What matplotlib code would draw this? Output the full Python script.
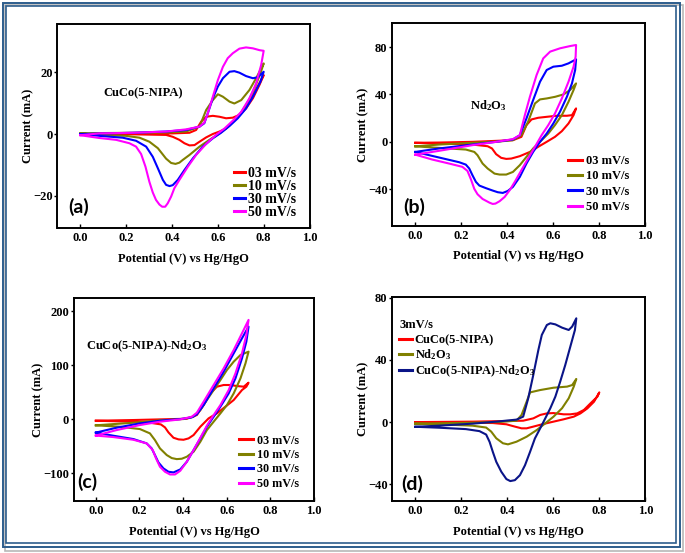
import matplotlib
matplotlib.use('Agg')
import matplotlib.pyplot as plt
from matplotlib.patches import Rectangle

plt.rcParams.update({
    'font.family': ['Liberation Serif', 'DejaVu Serif'],
    'font.weight': 'bold',
    'axes.labelweight': 'bold',
    'mathtext.fontset': 'custom',
    'mathtext.rm': 'Liberation Serif:bold',
    'mathtext.it': 'Liberation Serif:bold:italic',
    'mathtext.bf': 'Liberation Serif:bold',
    'axes.linewidth': 1.4,
    'xtick.direction': 'in',
    'ytick.direction': 'out',
    'xtick.major.size': 3,
    'ytick.major.size': 2,
    'xtick.major.width': 1.0,
    'ytick.major.width': 1.0,
})

# ---------------- data ----------------
x_ticks = [0.0, 0.2, 0.4, 0.6, 0.8, 1.0]
x_ticklabels = ['0.0', '0.2', '0.4', '0.6', '0.8', '1.0']
scan_labels = ['03 mV/s', '10 mV/s', '30 mV/s', '50 mV/s']
d_title = '3mV/s'
d_labels = ['CuCo(5-NIPA)', 'Nd$_2$O$_3$', 'CuCo(5-NIPA)-Nd$_2$O$_3$']
panel_titles = ['CuCo(5-NIPA)', 'Nd$_2$O$_3$', 'CuCo(5-NIPA)-Nd$_2$O$_3$']

# Panel (a) CuCo(5-NIPA)
a03_V = [0, 0.229, 0.403, 0.476, 0.505, 0.527, 0.549, 0.578, 0.607, 0.636, 0.665, 0.694, 0.723, 0.753, 0.782, 0.8,
         0.753, 0.709, 0.665, 0.636, 0.607, 0.578, 0.549, 0.520, 0.498, 0.476, 0.454, 0.432, 0.403, 0.374, 0.229, 0]
a03_I = [0, 0.1, 0.2, 0.4, 1.3, 4.0, 5.6, 5.9, 5.6, 5.1, 5.3, 6.2, 8.3, 11.6, 16.0, 19.1,
         12.6, 7.4, 4.0, 1.8, 0.8, 0, -1.1, -2.5, -3.6, -3.7, -3.0, -1.9, -0.9, -0.3, -0.1, 0]
a10_V = [0, 0.083, 0.229, 0.374, 0.461, 0.520, 0.549, 0.578, 0.600, 0.622, 0.651, 0.672, 0.702, 0.738, 0.767, 0.8,
         0.786, 0.757, 0.728, 0.699, 0.665, 0.636, 0.607, 0.563, 0.520, 0.476, 0.447, 0.432, 0.415, 0.396, 0.374,
         0.338, 0.301, 0.258, 0.199, 0.083, 0]
a10_I = [0.2, 0.3, 0.4, 0.5, 0.8, 2.4, 7.8, 11.0, 12.9, 12.1, 10.5, 9.9, 11.0, 14.3, 18.1, 22.9,
         19.7, 14.3, 10.0, 6.7, 4.0, 1.8, 0.2, -1.9, -4.1, -6.8, -8.4, -9.3, -9.7, -9.4, -8.0,
         -4.6, -2.5, -1.2, -0.6, -0.3, 0.2]
a30_V = [0, 0.229, 0.374, 0.461, 0.520, 0.541, 0.556, 0.578, 0.600, 0.622, 0.651, 0.672, 0.694, 0.723, 0.753, 0.774, 0.8,
         0.786, 0.753, 0.723, 0.687, 0.651, 0.614, 0.578, 0.534, 0.491, 0.454, 0.425, 0.403, 0.389, 0.374, 0.360,
         0.338, 0.316, 0.287, 0.243, 0.185, 0.083, 0]
a30_I = [0, 0.4, 0.8, 1.3, 2.4, 3.5, 6.7, 11.6, 15.4, 18.1, 20.2, 20.4, 19.9, 18.8, 18.1, 18.4, 20.2,
         17.0, 12.1, 8.3, 5.1, 2.6, 0.4, -1.4, -4.1, -7.9, -11.7, -14.9, -16.6, -16.9, -16.5, -14.9,
         -11.1, -7.4, -4.1, -2.2, -1.2, -0.6, 0]
a50_V = [0, 0.083, 0.229, 0.374, 0.461, 0.520, 0.541, 0.556, 0.578, 0.600, 0.622, 0.643, 0.665, 0.694, 0.723, 0.753, 0.782, 0.8,
         0.789, 0.767, 0.738, 0.702, 0.665, 0.629, 0.592, 0.549, 0.505, 0.469, 0.432, 0.410, 0.396, 0.381, 0.370,
         0.357, 0.345, 0.330, 0.316, 0.301, 0.284, 0.265, 0.243, 0.214, 0.156, 0.083, 0]
a50_I = [-0.4, 0.2, 0.4, 0.8, 1.5, 2.4, 3.7, 6.7, 12.1, 17.5, 21.8, 24.6, 26.2, 27.7, 28.1, 27.8, 27.2, 27.0,
         22.4, 16.4, 11.6, 7.2, 4.3, 1.8, -0.3, -3.2, -6.8, -10.6, -14.9, -17.6, -20.3, -22.5, -23.6,
         -23.6, -22.9, -21.4, -19.0, -15.5, -10.6, -6.5, -4.1, -3.0, -1.9, -1.3, -0.4]

# Panel (b) Nd2O3
b03_V = [0, 0.103, 0.249, 0.323, 0.425, 0.462, 0.484, 0.506, 0.535, 0.572, 0.616, 0.660, 0.682, 0.70,
         0.689, 0.667, 0.638, 0.608, 0.572, 0.535, 0.499, 0.455, 0.418, 0.396, 0.374, 0.352, 0.334, 0.315,
         0.249, 0.103, 0]
b03_I = [-0.8, -0.6, 0, 0.6, 1.4, 4.2, 14.1, 18.9, 20.3, 21.1, 22.0, 22.0, 22.5, 28.2,
         22.5, 15.5, 9.0, 4.2, 0, -4.2, -8.5, -12.1, -14.1, -14.4, -13.5, -10.4, -5.6, -3.7,
         -2.3, -1.4, -0.8]
b10_V = [0, 0.103, 0.249, 0.367, 0.425, 0.462, 0.491, 0.521, 0.543, 0.572, 0.609, 0.645, 0.674, 0.70,
         0.689, 0.667, 0.638, 0.608, 0.579, 0.550, 0.513, 0.484, 0.455, 0.425, 0.396, 0.367, 0.345, 0.315,
         0.293, 0.271, 0.257, 0.220, 0.103, 0]
b10_I = [-3.8, -2.3, -0.8, 0.3, 1.4, 5.6, 16.9, 32.4, 35.8, 36.6, 38.0, 40.0, 43.7, 49.3,
         43.7, 33.8, 22.5, 14.1, 7.0, 1.4, -5.6, -12.7, -19.7, -25.4, -27.6, -27.6, -26.8, -22.5,
         -18.3, -11.3, -8.5, -6.5, -5.1, -3.8]
b30_V = [0, 0.103, 0.249, 0.352, 0.425, 0.455, 0.484, 0.513, 0.543, 0.572, 0.601, 0.638, 0.667, 0.70,
         0.696, 0.682, 0.660, 0.630, 0.601, 0.572, 0.543, 0.513, 0.484, 0.455, 0.425, 0.403, 0.381, 0.359,
         0.337, 0.308, 0.279, 0.264, 0.249, 0.235, 0.220, 0.191, 0.103, 0]
b30_I = [-8.5, -5.6, -2.3, 0, 2.0, 5.6, 19.7, 35.2, 50.7, 60.6, 63.4, 64.2, 66.2, 69.6,
         60.6, 49.3, 38.0, 25.4, 15.5, 7.0, 0, -8.5, -18.3, -29.6, -38.0, -41.4, -43.1, -42.5,
         -41.1, -39.1, -36.9, -33.8, -28.2, -22.5, -19.2, -17.2, -13.2, -8.5]
b50_V = [0, 0.103, 0.249, 0.352, 0.425, 0.455, 0.477, 0.499, 0.528, 0.557, 0.587, 0.630, 0.674, 0.70,
         0.698, 0.689, 0.667, 0.638, 0.608, 0.579, 0.550, 0.521, 0.491, 0.462, 0.433, 0.411, 0.389, 0.367,
         0.349, 0.337, 0.323, 0.293, 0.271, 0.257, 0.242, 0.227, 0.205, 0.147, 0.073, 0]
b50_I = [-10.8, -7.6, -2.8, 0, 2.3, 5.6, 22.5, 38.0, 56.3, 70.4, 76.1, 78.9, 80.8, 81.7,
         71.8, 63.4, 50.7, 36.6, 23.9, 14.1, 5.6, -4.2, -14.1, -23.9, -33.8, -40.8, -46.5, -50.1,
         -52.1, -52.4, -51.3, -48.2, -44.2, -39.7, -31.5, -24.5, -21.1, -18.3, -14.9, -10.8]

# Panel (c) CuCo(5-NIPA)-Nd2O3
c03_V = [0, 0.172, 0.294, 0.417, 0.463, 0.494, 0.525, 0.555, 0.586, 0.617, 0.647, 0.678, 0.70,
         0.690, 0.670, 0.632, 0.594, 0.555, 0.517, 0.479, 0.448, 0.425, 0.402, 0.379, 0.356, 0.333,
         0.317, 0.298, 0.248, 0.172, 0]
c03_I = [-2.5, -1.2, 0, 1.2, 8.0, 26.5, 48.1, 60.5, 63.6, 63.6, 61.7, 60.5, 67.9,
         60.5, 54.3, 35.8, 23.5, 11.1, 1.9, -13.6, -29.0, -35.2, -37.7, -37.0, -34.0, -24.1,
         -14.8, -9.3, -6.2, -4.3, -2.5]
c10_V = [0, 0.172, 0.294, 0.402, 0.448, 0.479, 0.509, 0.540, 0.571, 0.601, 0.632, 0.663, 0.70,
         0.686, 0.663, 0.632, 0.601, 0.571, 0.540, 0.509, 0.479, 0.448, 0.417, 0.394, 0.371, 0.348,
         0.325, 0.294, 0.271, 0.248, 0.202, 0.110, 0]
c10_I = [-11.0, -6.2, -1.9, 0.6, 4.9, 17.3, 35.8, 54.3, 72.8, 91.4, 106.8, 119.1, 125.3,
         103.7, 75.9, 48.1, 26.5, 11.1, -4.3, -19.8, -41.4, -59.9, -69.1, -72.8, -73.5, -71.6,
         -66.0, -53.7, -38.3, -25.9, -17.9, -13.6, -11.0]
c30_V = [0, 0.095, 0.202, 0.294, 0.387, 0.440, 0.463, 0.494, 0.540, 0.586, 0.632, 0.670, 0.70,
         0.690, 0.670, 0.640, 0.609, 0.571, 0.540, 0.509, 0.479, 0.448, 0.417, 0.387, 0.356, 0.333,
         0.310, 0.287, 0.271, 0.256, 0.233, 0.172, 0.080, 0]
c30_I = [-24.5, -15.4, -7.4, -2.5, 0.6, 3.7, 9.3, 26.5, 57.4, 88.3, 122.2, 150.0, 171.6,
         143.8, 113.0, 75.9, 48.1, 23.5, 4.9, -13.6, -35.2, -56.8, -78.4, -92.6, -98.1, -96.9,
         -90.7, -79.6, -66.0, -53.7, -44.4, -36.4, -30.2, -24.5]
c50_V = [0, 0.095, 0.202, 0.294, 0.387, 0.440, 0.463, 0.494, 0.540, 0.586, 0.632, 0.670, 0.70,
         0.690, 0.670, 0.640, 0.609, 0.571, 0.540, 0.509, 0.479, 0.448, 0.417, 0.387, 0.363, 0.340,
         0.317, 0.294, 0.276, 0.261, 0.233, 0.172, 0.080, 0]
c50_I = [-30.0, -19.8, -10.5, -4.3, 0, 4.9, 12.3, 32.7, 63.6, 94.4, 128.4, 159.3, 184.0,
         156.2, 122.2, 85.2, 54.3, 26.5, 8.0, -11.7, -34.0, -56.8, -78.4, -95.1, -101.9, -101.9,
         -96.9, -87.7, -72.2, -56.8, -44.4, -37.7, -32.7, -30.0]

# Panel (d) comparison at 3 mV/s
d1_V = [0, 0.249, 0.469, 0.513, 0.543, 0.572, 0.601, 0.645, 0.674, 0.704, 0.733, 0.762, 0.792, 0.8,
        0.777, 0.748, 0.718, 0.689, 0.645, 0.601, 0.557, 0.513, 0.484, 0.462, 0.433, 0.396, 0.337, 0.249, 0]
d1_I = [0, 0.3, 0.9, 2.4, 4.6, 5.6, 5.8, 5.0, 5.0, 5.6, 7.8, 12.1, 16.4, 19.1,
        13.1, 8.8, 5.6, 3.5, 1.8, 0.3, -1.2, -2.9, -4.0, -4.0, -2.9, -1.4, -0.6, -0.4, 0]
d2_V = [0, 0.249, 0.367, 0.440, 0.462, 0.484, 0.499, 0.543, 0.601, 0.660, 0.682, 0.70,
        0.689, 0.667, 0.638, 0.601, 0.565, 0.528, 0.484, 0.440, 0.403, 0.381, 0.352, 0.330, 0.308, 0.249, 0.103, 0]
d2_I = [-1.0, -0.4, 0.1, 0.9, 4.6, 13.1, 19.1, 20.6, 22.1, 22.8, 23.8, 27.7,
        22.8, 15.3, 8.9, 3.5, -0.8, -5.1, -9.4, -12.6, -14.3, -13.6, -10.4, -6.1, -3.5, -2.3, -1.4, -1.0]
d3_V = [0, 0.103, 0.249, 0.352, 0.440, 0.469, 0.491, 0.513, 0.535, 0.550, 0.572, 0.587, 0.609, 0.638, 0.667, 0.682, 0.70,
        0.694, 0.674, 0.652, 0.630, 0.609, 0.587, 0.565, 0.543, 0.520, 0.499, 0.477, 0.455, 0.433, 0.413, 0.396,
        0.374, 0.352, 0.337, 0.323, 0.308, 0.279, 0.220, 0.103, 0]
d3_I = [-3.0, -2.3, -1.0, 0.3, 1.6, 3.5, 15.3, 30.3, 46.3, 56.0, 62.4, 63.5, 62.8, 60.7, 59.2, 61.4, 66.7,
        59.2, 48.5, 36.7, 26.0, 16.4, 8.9, 2.4, -4.0, -10.5, -19.1, -27.7, -34.1, -37.3, -37.9, -36.6,
        -31.9, -25.5, -19.1, -12.7, -8.0, -5.8, -4.5, -3.6, -3.0]

# ---------------- styling ----------------
scan_colors = ['#ff0000', '#808000', '#0000ff', '#ff00ff']
d_colors = ['#ff0000', '#808000', '#0a1488']

fig = plt.figure(figsize=(6.85, 5.53), dpi=100)

W, H = 685.0, 553.0
def ax_at(l, t, r, b):
    return fig.add_axes([l / W, 1 - b / H, (r - l) / W, (b - t) / H])

axA = ax_at(57.5, 24.3, 309.5, 228.3)
axB = ax_at(392.3, 23.3, 645.0, 226.0)
axC = ax_at(74.0, 298.3, 314.0, 501.0)
axD = ax_at(392.3, 297.3, 645.3, 501.0)

panels = [
    (axA, [(a03_V, a03_I), (a10_V, a10_I), (a30_V, a30_I), (a50_V, a50_I)], (-30.6, 35.6), [-20, 0, 20]),
    (axB, [(b03_V, b03_I), (b10_V, b10_I), (b30_V, b30_I), (b50_V, b50_I)], (-71, 100), [-40, 0, 40, 80]),
    (axC, [(c03_V, c03_I), (c10_V, c10_I), (c30_V, c30_I), (c50_V, c50_I)], (-151, 224), [-100, 0, 100, 200]),
]

for ax, curves, ylim, yt in panels:
    for (v, i), col, lab in zip(curves, scan_colors, scan_labels):
        ax.plot(v, i, color=col, lw=1.5, label=lab, solid_joinstyle='round')
    ax.set_ylim(*ylim)
    ax.set_yticks(yt)

for (v, i), col, lab in zip([(d1_V, d1_I), (d2_V, d2_I), (d3_V, d3_I)], d_colors, d_labels):
    axD.plot(v, i, color=col, lw=1.5, label=lab, solid_joinstyle='round')
axD.set_ylim(-50.7, 80.2)
axD.set_yticks([-40, 0, 40, 80])

for ax in [axA, axB, axC, axD]:
    ax.set_xlim(-0.1, 1.0)
    ax.set_xticks(x_ticks)
    ax.set_xticklabels(x_ticklabels)
    ax.tick_params(axis='x', labelsize=9, pad=3)
    ax.tick_params(axis='y', labelsize=9, pad=1.5)
    ax.set_xlabel('Potential (V) vs Hg/HgO', fontsize=9, labelpad=6)
    ax.set_ylabel('Current (mA)', fontsize=9, labelpad=-1)

# panel titles
axA.text(0.182, 0.663, panel_titles[0], transform=axA.transAxes, fontsize=9, va='center', ha='left')
axB.text(0.307, 0.592, panel_titles[1], transform=axB.transAxes, fontsize=9, va='center', ha='left')
axC.text(0.05, 0.765, panel_titles[2], transform=axC.transAxes, fontsize=9, va='center', ha='left')

# panel letters
for ax, lab, x, y in [(axA, '(a)', 0.043, 0.106), (axB, '(b)', 0.044, 0.092),
                      (axC, '(c)', 0.014, 0.092), (axD, '(d)', 0.037, 0.082)]:
    ax.text(x, y, lab, transform=ax.transAxes, fontsize=14, fontweight='bold',
            family=['Lato', 'DejaVu Sans'], va='center', ha='left')

# legends
axA.legend(loc='lower right', bbox_to_anchor=(0.948, 0.046), frameon=False, fontsize=10,
           handlelength=0.8, handletextpad=0.25, labelspacing=0.0, borderpad=0, borderaxespad=0)
axB.legend(loc='lower right', bbox_to_anchor=(0.938, 0.063), frameon=False, fontsize=9,
           handlelength=1.15, handletextpad=0.3, labelspacing=0.27, borderpad=0, borderaxespad=0)
axC.legend(loc='lower right', bbox_to_anchor=(0.9375, 0.055), frameon=False, fontsize=8.7,
           handlelength=1.15, handletextpad=0.35, labelspacing=0.2, borderpad=0, borderaxespad=0)
axD.text(0.028, 0.864, d_title, transform=axD.transAxes, fontsize=9, va='center', ha='left')
lg = axD.legend(loc='upper left', bbox_to_anchor=(0.028, 0.818), frameon=False, fontsize=8.9,
                handlelength=1.0, handletextpad=0.25, labelspacing=0.08, borderpad=0, borderaxespad=0)
for leg in [axA.get_legend(), axB.get_legend(), axC.get_legend(), lg]:
    for h in leg.get_lines():
        h.set_linewidth(2.2)

# figure border (double blue frame with shadow)
fig.patches.append(Rectangle((4.5 / W, 1 - 550.5 / H), 678.5 / W, 546 / H, transform=fig.transFigure,
                             fill=False, ec='#b8b8b8', lw=1.2))
fig.patches.append(Rectangle((2.5 / W, 1 - 546.5 / H), 677.5 / W, 544 / H, transform=fig.transFigure,
                             fill=False, ec='#2d5d8c', lw=1.4))
fig.patches.append(Rectangle((6.0 / W, 1 - 542.5 / H), 670.0 / W, 536.5 / H, transform=fig.transFigure,
                             fill=False, ec='#2d5d8c', lw=1.2))

fig.savefig('out.png', dpi=100)
